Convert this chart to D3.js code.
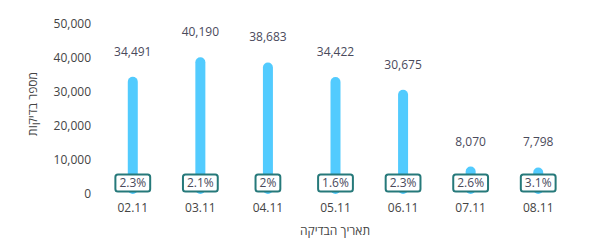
<!DOCTYPE html>
<html>
<head>
<meta charset="utf-8">
<script src="https://cdn.jsdelivr.net/npm/d3@7"></script>
<style>
  body { margin: 0; background: #fff; }
  svg text { font-family: "Open Sans", sans-serif; }
</style>
</head>
<body>
<svg id="chart" width="596" height="245"></svg>
<script>
// data
var dates = ['02.11', '03.11', '04.11', '05.11', '06.11', '07.11', '08.11'];
var tests = [34491, 40190, 38683, 34422, 30675, 8070, 7798];
var positive = ['2.3%', '2.1%', '2%', '1.6%', '2.3%', '2.6%', '3.1%'];
var yTicks = [0, 10000, 20000, 30000, 40000, 50000];

var svg = d3.select('#chart');

var x = d3.scaleBand().domain(dates).range([99, 572]);
var y = d3.scaleLinear().domain([0, 50000]).range([194, 24]);

var fmt = d3.format(',');

// y axis labels
var yAxis = svg.append('g')
    .attr('transform', 'translate(91,0)')
    .call(d3.axisLeft(y).tickValues(yTicks).tickFormat(fmt).tickSize(0).tickPadding(0));
yAxis.select('.domain').remove();
yAxis.selectAll('text')
    .attr('fill', '#444')
    .style('font-size', '12px');

// x axis labels
var xAxis = svg.append('g')
    .attr('transform', 'translate(0,203)')
    .call(d3.axisBottom(x).tickSize(0).tickPadding(0));
xAxis.select('.domain').remove();
xAxis.selectAll('text')
    .attr('fill', '#444')
    .style('font-size', '12px');

// bars (rounded line caps)
var data = dates.map(function (d, i) { return {date: d, v: tests[i], p: positive[i]}; });

svg.append('g').selectAll('line')
    .data(data)
    .enter().append('line')
    .attr('x1', d => x(d.date) + x.bandwidth() / 2)
    .attr('x2', d => x(d.date) + x.bandwidth() / 2)
    .attr('y1', y(0) - 5)
    .attr('y2', d => y(d.v) + 5)
    .attr('stroke', '#52cbfe')
    .attr('stroke-width', 10)
    .attr('stroke-linecap', 'round');

// value labels
svg.append('g').selectAll('text')
    .data(data)
    .enter().append('text')
    .attr('x', d => x(d.date) + x.bandwidth() / 2)
    .attr('y', d => y(d.v) - 21)
    .attr('text-anchor', 'middle')
    .attr('fill', '#4a4a5c')
    .style('font-size', '12px')
    .text(d => fmt(d.v));

// percent boxes
var boxes = svg.append('g').selectAll('g')
    .data(data)
    .enter().append('g')
    .attr('transform', d => 'translate(' + (x(d.date) + x.bandwidth() / 2) + ',183)');

boxes.append('rect').attr('class', 'box');
boxes.append('text')
    .attr('text-anchor', 'middle')
    .attr('dy', '0.35em')
    .attr('fill', '#4a4a5c')
    .style('font-size', '12px')
    .text(d => d.p);

boxes.each(function () {
    var g = d3.select(this);
    var w = g.select('text').node().getComputedTextLength() + 8;
    g.select('rect')
        .attr('x', -w / 2).attr('y', -8.5)
        .attr('width', w).attr('height', 17)
        .attr('rx', 2.5)
        .attr('fill', '#fff')
        .attr('stroke', '#26797a')
        .attr('stroke-width', 2);
});

// axis titles
svg.append('text')
    .attr('transform', 'translate(37,104) rotate(-90)')
    .attr('text-anchor', 'middle')
    .attr('fill', '#444')
    .style('font-size', '12px')
    .text('מספר בדיקות');

svg.append('text')
    .attr('x', 335)
    .attr('y', 235)
    .attr('text-anchor', 'middle')
    .attr('fill', '#444')
    .style('font-size', '12px')
    .text('תאריך הבדיקה');
</script>
</body>
</html>
